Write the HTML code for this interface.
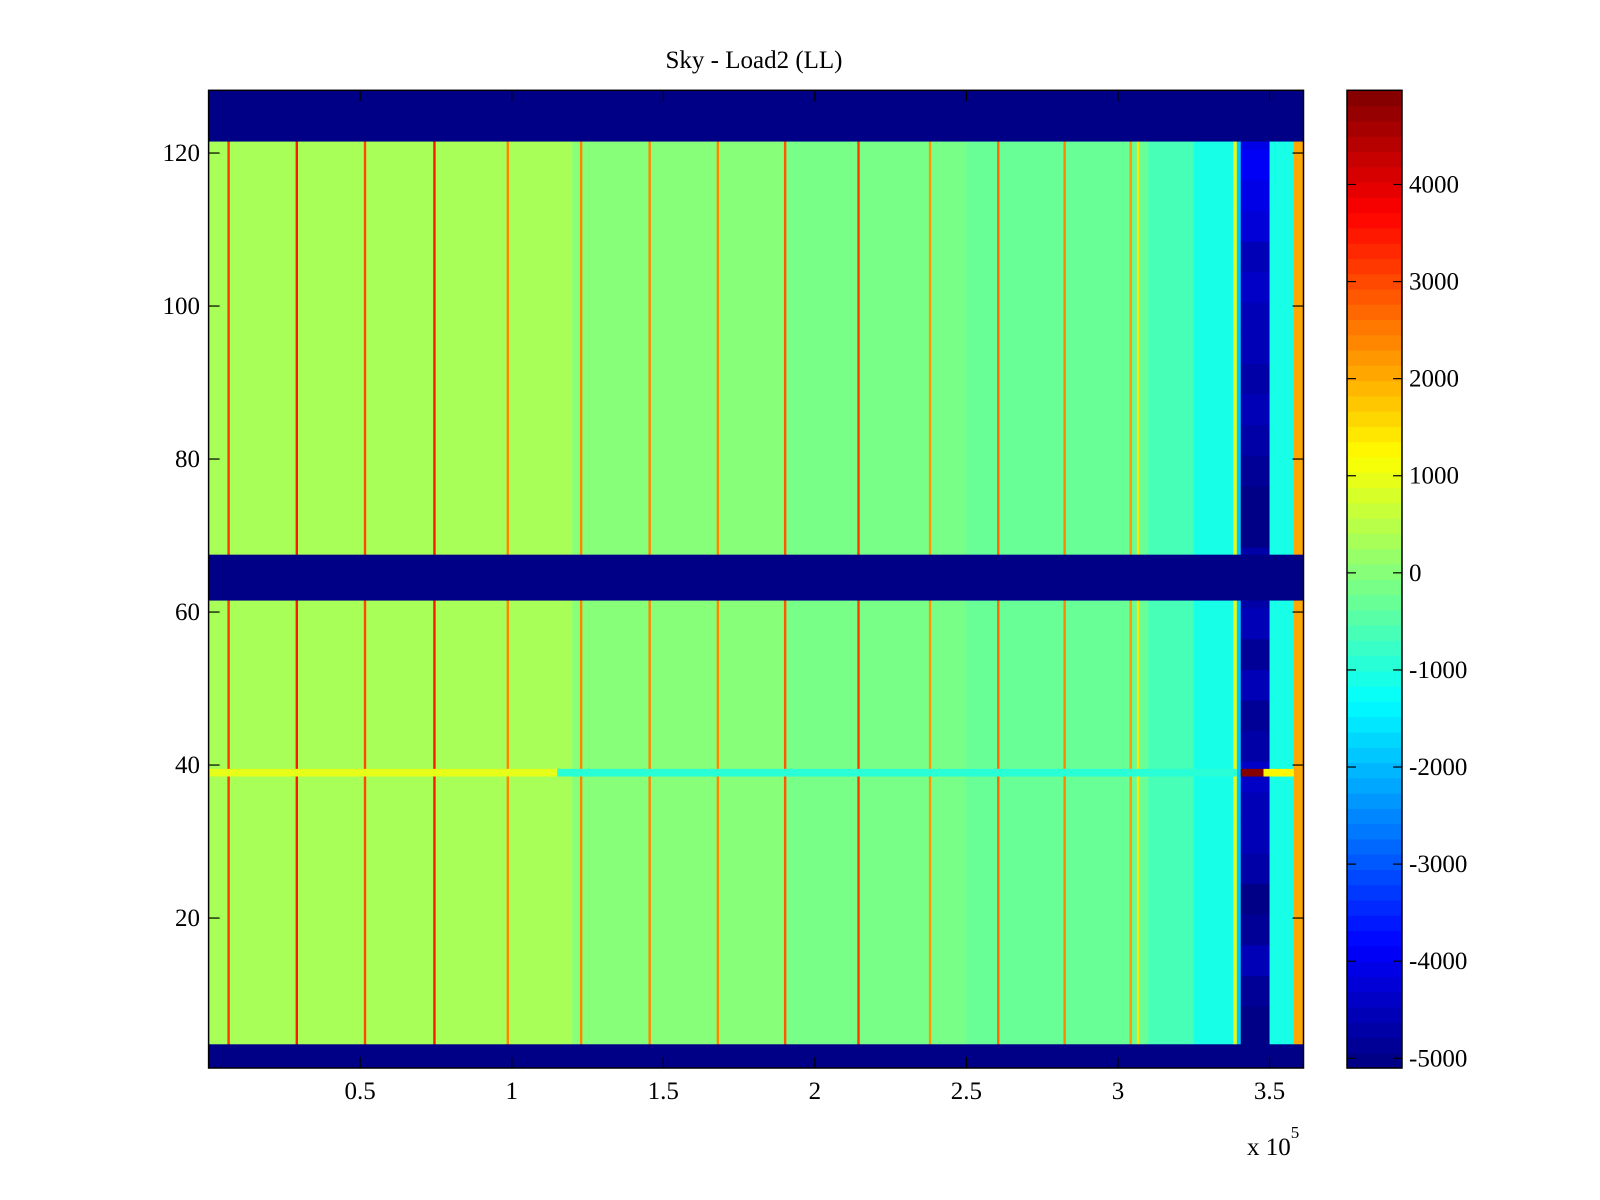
<!DOCTYPE html>
<html><head><meta charset="utf-8"><style>
html,body{margin:0;padding:0;background:#fff;}
svg{display:block;font-family:"Liberation Serif",serif;}
</style></head><body>
<svg id="chart" width="1600" height="1200" viewBox="0 0 1600 1200">
<defs><clipPath id="pc"><rect x="208.6" y="90.3" width="1094.9" height="977.7"/></clipPath></defs>
<rect width="1600" height="1200" fill="#fff"/>
<text x="754" y="68" font-size="25" text-anchor="middle">Sky - Load2 (LL)</text>
<g id="plot" clip-path="url(#pc)"></g>
<g id="axes"></g>
<g id="cbar"></g>
<text x="1247" y="1155" font-size="25">x 10<tspan dy="-17" font-size="17">5</tspan></text>
</svg>
<script>
// ---- data ----
const xTicks = [0.5, 1, 1.5, 2, 2.5, 3, 3.5];
const xTickLabels = ["0.5", "1", "1.5", "2", "2.5", "3", "3.5"];
const yTicks = [20, 40, 60, 80, 100, 120];
const yTickLabels = ["20", "40", "60", "80", "100", "120"];
const cTicks = [-5000, -4000, -3000, -2000, -1000, 0, 1000, 2000, 3000, 4000];
const cTickLabels = ["-5000", "-4000", "-3000", "-2000", "-1000", "0", "1000", "2000", "3000", "4000"];
// background column segments (x in 1e5 units)
const segStart = [0, 0.6, 1.2, 1.9, 2.5, 3.1, 3.25, 3.38, 3.392, 3.5, 3.58];
const segEnd = [0.6, 1.2, 1.9, 2.5, 3.1, 3.25, 3.38, 3.392, 3.405, 3.58, 3.612];
const segVal = [330, 250, 0, -150, -350, -650, -1100, 900, -1800, -1150, 2000];
// vertical stripes
const stripeX = [0.066, 0.291, 0.516, 0.745, 0.987, 1.229, 1.455, 1.680, 1.902, 2.144, 2.380, 2.605, 2.824, 3.042, 3.066];
const stripeVal = [3200, 3500, 3000, 3400, 2400, 2300, 2300, 2400, 2800, 3200, 2200, 2700, 2400, 2200, 1500];
// blank (no data) row ranges
const blankFrom = [0.4, 61.5, 121.5];
const blankTo = [3.5, 67.5, 128.2];
// dark band (3.405e5 - 3.50e5) per 4-row block
const bandBlockVal = [-5000, -5000, -4900, -4600, -4800, -5000, -4700, -4600, -4500, -4400, -4700, -4800, -4500, -4900, -4600, -4700, -4700, -5000, -5000, -4900, -4700, -4600, -4700, -4500, -4600, -4400, -4500, -4200, -4000, -3900, -4000, -4000];
const bandX0 = 3.405, bandX1 = 3.5;
// horizontal line at row 39
const hRow = 39;
const hStart = [0, 1.15, 3.405, 3.48];
const hEnd = [1.15, 3.392, 3.48, 3.58];
const hVal = [1000, -900, 4900, 1200];

// ---- scales ----
const L = 208.6, R = 1303.5, T = 90.3, B = 1068;
const xMin = 0, xMax = 3.612, yMin = 0.4, yMax = 128.2;
const cMin = -5100, cMax = 4970;
const CB_L = 1347, CB_R = 1402;
const xs = v => L + (v - xMin) / (xMax - xMin) * (R - L);
const ys = v => B - (v - yMin) / (yMax - yMin) * (B - T);
const cs = v => B - (v - cMin) / (cMax - cMin) * (B - T);
function jet(v){
  let t = (v - cMin) / (cMax - cMin); t = Math.max(0, Math.min(1, t));
  const k = Math.min(63, Math.floor(t * 64)); t = (k + 0.5) / 64;
  const c = x => Math.round(255 * Math.max(0, Math.min(1, x)));
  return `rgb(${c(1.5 - Math.abs(4*t - 3))},${c(1.5 - Math.abs(4*t - 2))},${c(1.5 - Math.abs(4*t - 1))})`;
}
const NS = "http://www.w3.org/2000/svg";
function mk(tag, attrs, parent){ const e = document.createElementNS(NS, tag); for (const k in attrs) e.setAttribute(k, attrs[k]); parent.appendChild(e); return e; }
const plot = document.getElementById('plot');
const axes = document.getElementById('axes');
const cbar = document.getElementById('cbar');

segStart.forEach((s, i) => {
  const r = mk('rect', {x: xs(s), y: T, width: xs(segEnd[i]) - xs(s) + 0.5, height: B - T, fill: jet(segVal[i])}, plot);
  
  
});
stripeX.forEach((s, i) => {
  const r = mk('rect', {x: xs(s) - 1.2, y: T, width: 2.4, height: B - T, fill: jet(stripeVal[i])}, plot);
  
  
});
bandBlockVal.forEach((v, i) => {
  const r0 = i * 4 + 0.5, r1 = r0 + 4;
  const r = mk('rect', {x: xs(bandX0), y: ys(r1), width: xs(bandX1) - xs(bandX0), height: ys(r0) - ys(r1) + 0.5, fill: jet(v)}, plot);
  
  
});
hStart.forEach((s, i) => {
  const r = mk('rect', {x: xs(s), y: ys(hRow + 0.5), width: xs(hEnd[i]) - xs(s), height: ys(hRow - 0.5) - ys(hRow + 0.5), fill: jet(hVal[i])}, plot);
  
  
});
blankFrom.forEach((f, i) => {
  const r = mk('rect', {x: L, y: ys(blankTo[i]), width: R - L, height: ys(f) - ys(blankTo[i]), fill: jet(cMin)}, plot);
  
  
});

const fr = mk('rect', {x: L, y: T, width: R - L, height: B - T, fill: 'none', stroke: '#000', 'stroke-width': 1.5}, axes);


xTicks.forEach((t, i) => {
  const x = xs(t);
  mk('line', {x1: x, y1: B, x2: x, y2: B - 11, stroke: '#000', 'stroke-width': 1.2}, axes);
  mk('line', {x1: x, y1: T, x2: x, y2: T + 11, stroke: '#000', 'stroke-width': 1.2}, axes);
  const tx = mk('text', {x: x, y: 1099, 'font-size': 25, 'text-anchor': 'middle'}, axes);
  tx.textContent = xTickLabels[i];
  
  
});
yTicks.forEach((t, i) => {
  const y = ys(t);
  mk('line', {x1: L, y1: y, x2: L + 11, y2: y, stroke: '#000', 'stroke-width': 1.2}, axes);
  mk('line', {x1: R, y1: y, x2: R - 11, y2: y, stroke: '#000', 'stroke-width': 1.2}, axes);
  const tx = mk('text', {x: 200, y: y + 8, 'font-size': 25, 'text-anchor': 'end'}, axes);
  tx.textContent = yTickLabels[i];
  
  
});

for (let k = 0; k < 64; k++) {
  const v0 = cMin + (cMax - cMin) * k / 64, v1 = cMin + (cMax - cMin) * (k + 1) / 64;
  const r = mk('rect', {x: CB_L, y: cs(v1), width: CB_R - CB_L, height: cs(v0) - cs(v1) + 0.6, fill: jet((v0 + v1) / 2)}, cbar);
  
  
}
mk('rect', {x: CB_L, y: T, width: CB_R - CB_L, height: B - T, fill: 'none', stroke: '#000', 'stroke-width': 1.5}, cbar);
cTicks.forEach((t, i) => {
  const y = cs(t);
  mk('line', {x1: CB_L, y1: y, x2: CB_L + 9, y2: y, stroke: '#000', 'stroke-width': 1.2}, cbar);
  mk('line', {x1: CB_R, y1: y, x2: CB_R - 9, y2: y, stroke: '#000', 'stroke-width': 1.2}, cbar);
  const tx = mk('text', {x: 1409, y: y + 8, 'font-size': 25}, cbar);
  tx.textContent = cTickLabels[i];
  
  
});
</script>
</body></html>
